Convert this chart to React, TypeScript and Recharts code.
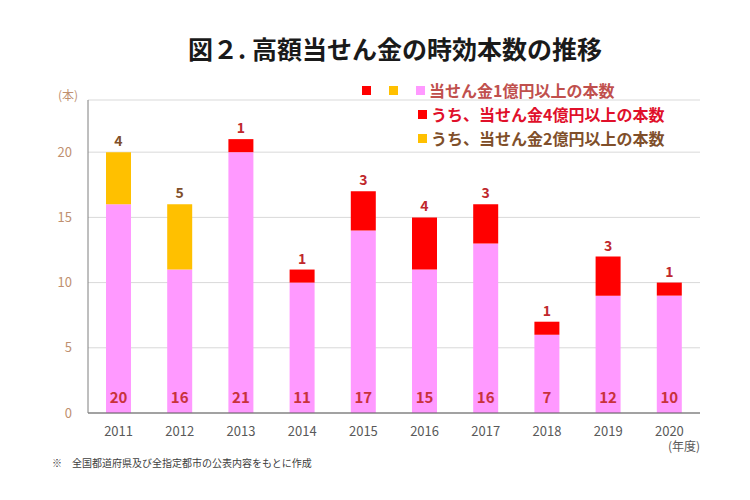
import React from "react";
import { BarChart, Bar, XAxis, YAxis, CartesianGrid, LabelList } from "recharts";

// 年度
const years = ["2011", "2012", "2013", "2014", "2015", "2016", "2017", "2018", "2019", "2020"];
// 当せん金1億円以上 (うち分を除いた部分)
const baseCounts = [16, 11, 20, 10, 14, 11, 13, 6, 9, 9];
// うち、4億円以上
const over4Counts = [0, 0, 1, 1, 3, 4, 3, 1, 3, 1];
// うち、2億円以上
const over2Counts = [4, 5, 0, 0, 0, 0, 0, 0, 0, 0];
const yTicks = [0, 5, 10, 15, 20];

const data = years.map((year, i) => ({
  year,
  base: baseCounts[i],
  over4: over4Counts[i],
  over2: over2Counts[i],
  total: baseCounts[i] + over4Counts[i] + over2Counts[i],
}));

const FONT = "'Noto Sans CJK JP', 'Noto Sans', sans-serif";
const PINK = "#FF99FF";
const RED = "#FF0000";
const YELLOW = "#FFC000";

const topLabel = (color: string) => (props: any) => {
  const { x, y, width, value } = props;
  if (!value) return null;
  return (
    <text x={x + width / 2} y={y - 6} textAnchor="middle" fill={color} fontSize={14} fontWeight={700} fontFamily={FONT}>
      {value}
    </text>
  );
};

const totalLabel = (props: any) => {
  const { x, y, width, height, index } = props;
  return (
    <text x={x + width / 2} y={y + height - 10} textAnchor="middle" fill="#C8323C" fontSize={15} fontWeight={700} fontFamily={FONT}>
      {data[index].total}
    </text>
  );
};

const Square = ({ color }: { color: string }) => (
  <span style={{ display: "inline-block", width: 9, height: 9, background: color, marginRight: 4 }} />
);

export default function App() {
  return (
    <div style={{ position: "absolute", left: 0, top: 0, width: 750, height: 500, background: "#fff", fontFamily: FONT }}>
      <div style={{ position: "absolute", top: 30, left: 0, width: 790, textAlign: "center", fontSize: 25, fontWeight: 700, color: "#1a1a1a" }}>
        図２. 高額当せん金の時効本数の推移
      </div>

      <div style={{ position: "absolute", left: 362, top: 78, fontSize: 16, fontWeight: 700, lineHeight: "24px" }}>
        <div style={{ display: "flex", alignItems: "center", color: "#C0504D" }}>
          <Square color={RED} />
          <span style={{ width: 14 }} />
          <Square color={YELLOW} />
          <span style={{ width: 14 }} />
          <Square color={PINK} />
          当せん金1億円以上の本数
        </div>
        <div style={{ display: "flex", alignItems: "center", color: "#E0102A", marginLeft: 56 }}>
          <Square color={RED} />
          うち、当せん金4億円以上の本数
        </div>
        <div style={{ display: "flex", alignItems: "center", color: "#7F4F2A", marginLeft: 56 }}>
          <Square color={YELLOW} />
          うち、当せん金2億円以上の本数
        </div>
      </div>

      <div style={{ position: "absolute", left: 58, top: 86, fontSize: 12, color: "#C09070" }}>(本)</div>

      <BarChart width={750} height={500} data={data} margin={{ top: 100, right: 50, left: 0, bottom: 0 }} barSize={25}>
        <CartesianGrid vertical={false} stroke="#D9D9D9" />
        <XAxis
          dataKey="year"
          height={87}
          tickLine={false}
          stroke="#595959"
          tick={{ fill: "#595959", fontSize: 13, fontFamily: FONT }}
          tickMargin={8}
        />
        <YAxis
          width={88}
          domain={[0, 24]}
          ticks={yTicks}
          tickLine={false}
          stroke="#7F7F7F"
          tick={{ fill: "#C09070", fontSize: 13, fontFamily: FONT }}
          tickMargin={10}
        />
        <Bar dataKey="base" stackId="a" fill={PINK} isAnimationActive={false}>
          <LabelList dataKey="base" content={totalLabel} />
        </Bar>
        <Bar dataKey="over4" stackId="a" fill={RED} isAnimationActive={false}>
          <LabelList dataKey="over4" content={topLabel("#C0282D")} />
        </Bar>
        <Bar dataKey="over2" stackId="a" fill={YELLOW} isAnimationActive={false}>
          <LabelList dataKey="over2" content={topLabel("#7F4F2A")} />
        </Bar>
      </BarChart>

      <div style={{ position: "absolute", left: 668, top: 437, fontSize: 12, color: "#595959" }}>(年度)</div>
      <div style={{ position: "absolute", left: 52, top: 455, fontSize: 10, color: "#404040" }}>
        ※　全国都道府県及び全指定都市の公表内容をもとに作成
      </div>
    </div>
  );
}
